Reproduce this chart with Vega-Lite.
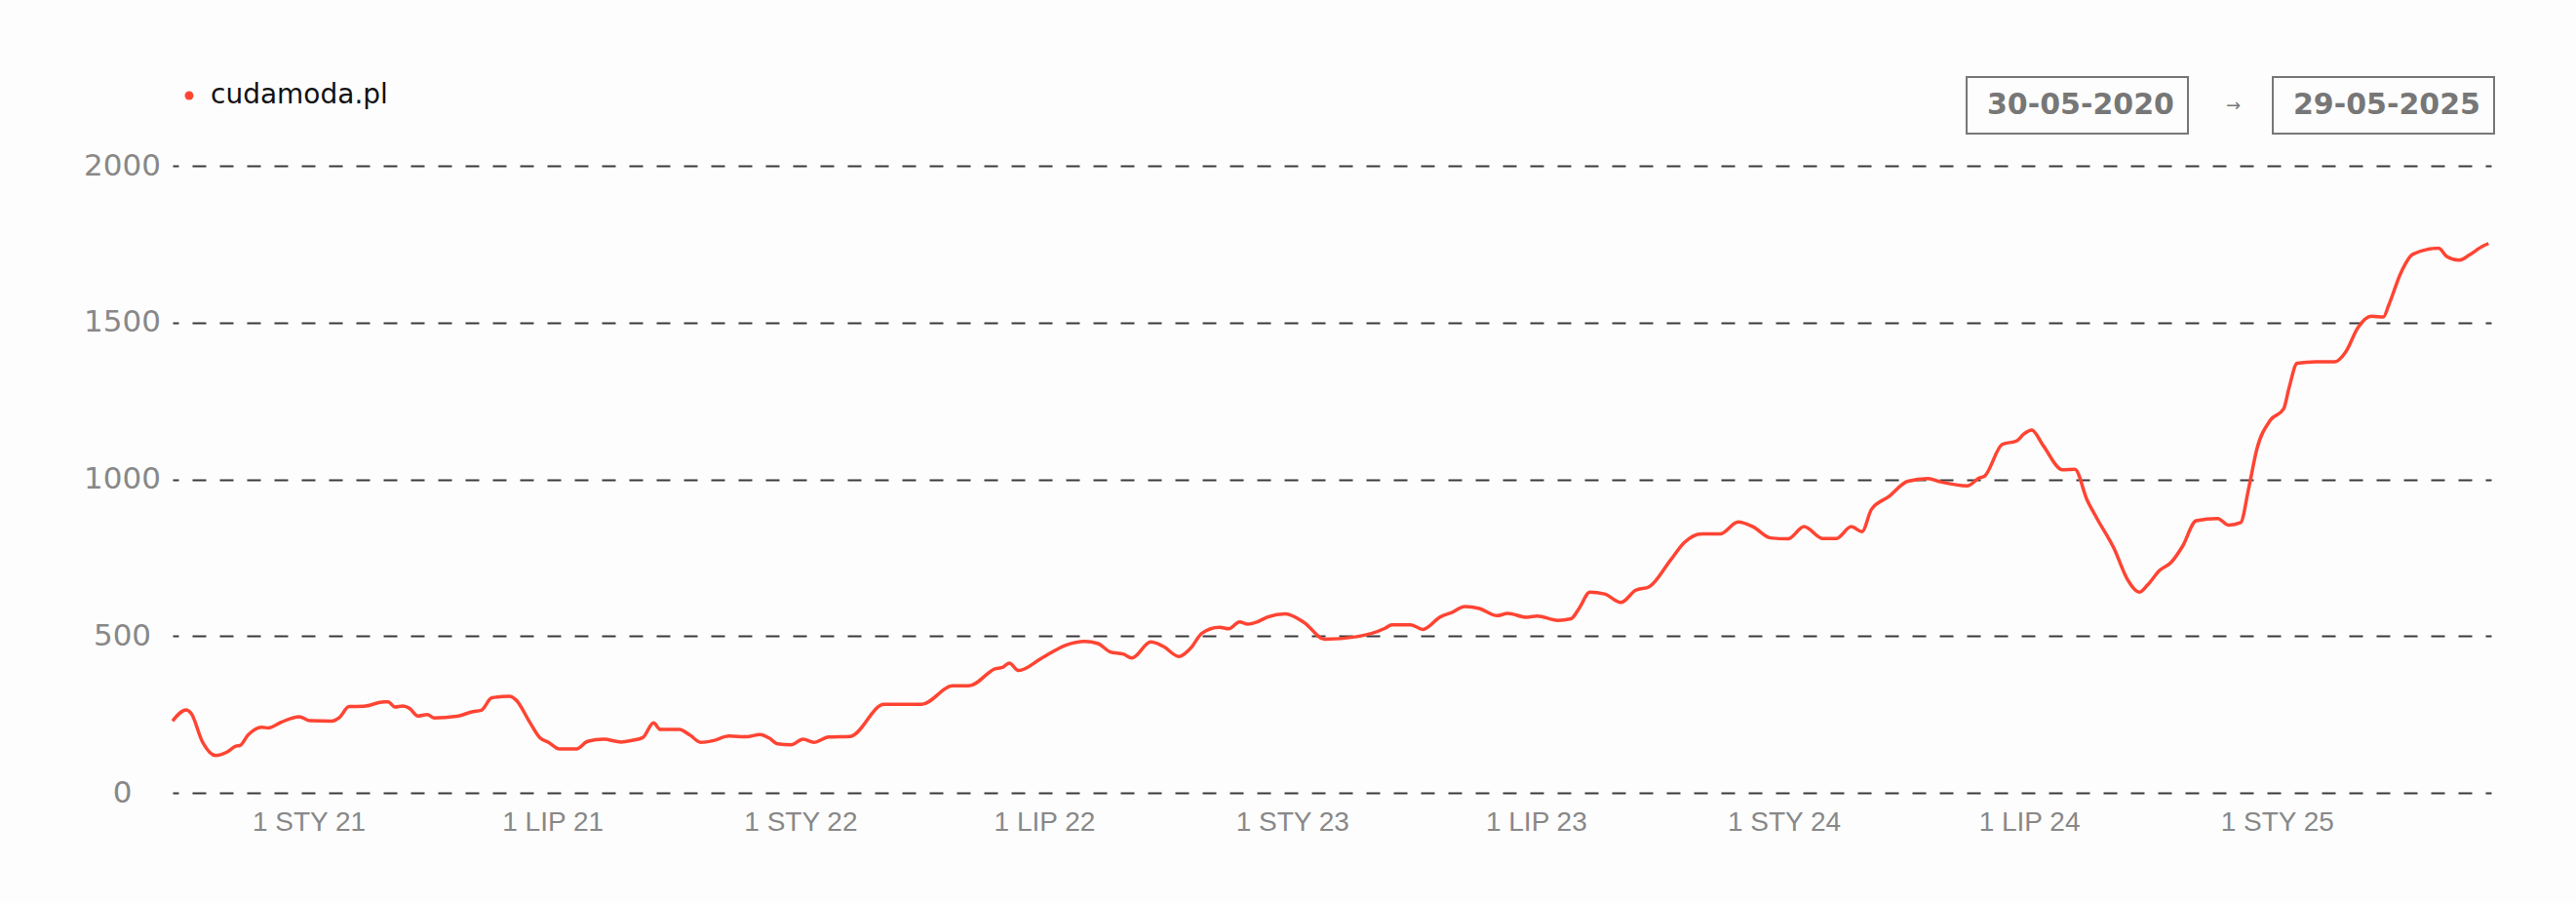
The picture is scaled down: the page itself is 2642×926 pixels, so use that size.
{
  "$schema": "https://vega.github.io/schema/vega-lite/v6.json",
  "width": 2378,
  "height": 643,
  "autosize": {"type": "none"},
  "padding": {"left": 177, "top": 170, "right": 87, "bottom": 113},
  "background": "#fdfdfd",
  "config": {
    "view": {"stroke": null},
    "legend": {"strokeWidth": 2, "labelLimit": 0}
  },
  "layer": [
    {
      "data": {
        "values": [
          {"date": "2020-09-22", "value": 229, "site": "cudamoda.pl"},
          {"date": "2020-10-02", "value": 264, "site": "cudamoda.pl"},
          {"date": "2020-10-06", "value": 252, "site": "cudamoda.pl"},
          {"date": "2020-10-14", "value": 164, "site": "cudamoda.pl"},
          {"date": "2020-10-24", "value": 119, "site": "cudamoda.pl"},
          {"date": "2020-11-01", "value": 129, "site": "cudamoda.pl"},
          {"date": "2020-11-08", "value": 149, "site": "cudamoda.pl"},
          {"date": "2020-11-11", "value": 151, "site": "cudamoda.pl"},
          {"date": "2020-11-17", "value": 184, "site": "cudamoda.pl"},
          {"date": "2020-11-27", "value": 209, "site": "cudamoda.pl"},
          {"date": "2020-12-02", "value": 207, "site": "cudamoda.pl"},
          {"date": "2020-12-12", "value": 226, "site": "cudamoda.pl"},
          {"date": "2020-12-25", "value": 243, "site": "cudamoda.pl"},
          {"date": "2021-01-02", "value": 230, "site": "cudamoda.pl"},
          {"date": "2021-01-18", "value": 229, "site": "cudamoda.pl"},
          {"date": "2021-01-24", "value": 241, "site": "cudamoda.pl"},
          {"date": "2021-01-31", "value": 275, "site": "cudamoda.pl"},
          {"date": "2021-02-11", "value": 276, "site": "cudamoda.pl"},
          {"date": "2021-02-26", "value": 290, "site": "cudamoda.pl"},
          {"date": "2021-03-01", "value": 290, "site": "cudamoda.pl"},
          {"date": "2021-03-06", "value": 274, "site": "cudamoda.pl"},
          {"date": "2021-03-12", "value": 277, "site": "cudamoda.pl"},
          {"date": "2021-03-17", "value": 269, "site": "cudamoda.pl"},
          {"date": "2021-03-23", "value": 245, "site": "cudamoda.pl"},
          {"date": "2021-03-30", "value": 250, "site": "cudamoda.pl"},
          {"date": "2021-04-04", "value": 239, "site": "cudamoda.pl"},
          {"date": "2021-04-21", "value": 244, "site": "cudamoda.pl"},
          {"date": "2021-05-03", "value": 259, "site": "cudamoda.pl"},
          {"date": "2021-05-09", "value": 263, "site": "cudamoda.pl"},
          {"date": "2021-05-17", "value": 303, "site": "cudamoda.pl"},
          {"date": "2021-05-30", "value": 308, "site": "cudamoda.pl"},
          {"date": "2021-06-04", "value": 296, "site": "cudamoda.pl"},
          {"date": "2021-06-14", "value": 226, "site": "cudamoda.pl"},
          {"date": "2021-06-22", "value": 174, "site": "cudamoda.pl"},
          {"date": "2021-06-28", "value": 161, "site": "cudamoda.pl"},
          {"date": "2021-07-06", "value": 140, "site": "cudamoda.pl"},
          {"date": "2021-07-19", "value": 140, "site": "cudamoda.pl"},
          {"date": "2021-07-27", "value": 164, "site": "cudamoda.pl"},
          {"date": "2021-08-08", "value": 171, "site": "cudamoda.pl"},
          {"date": "2021-08-21", "value": 162, "site": "cudamoda.pl"},
          {"date": "2021-08-29", "value": 167, "site": "cudamoda.pl"},
          {"date": "2021-09-06", "value": 176, "site": "cudamoda.pl"},
          {"date": "2021-09-14", "value": 223, "site": "cudamoda.pl"},
          {"date": "2021-09-19", "value": 202, "site": "cudamoda.pl"},
          {"date": "2021-10-03", "value": 202, "site": "cudamoda.pl"},
          {"date": "2021-10-11", "value": 184, "site": "cudamoda.pl"},
          {"date": "2021-10-19", "value": 161, "site": "cudamoda.pl"},
          {"date": "2021-10-28", "value": 166, "site": "cudamoda.pl"},
          {"date": "2021-11-09", "value": 181, "site": "cudamoda.pl"},
          {"date": "2021-11-22", "value": 179, "site": "cudamoda.pl"},
          {"date": "2021-12-02", "value": 186, "site": "cudamoda.pl"},
          {"date": "2021-12-09", "value": 174, "site": "cudamoda.pl"},
          {"date": "2021-12-15", "value": 156, "site": "cudamoda.pl"},
          {"date": "2021-12-25", "value": 153, "site": "cudamoda.pl"},
          {"date": "2022-01-03", "value": 171, "site": "cudamoda.pl"},
          {"date": "2022-01-11", "value": 161, "site": "cudamoda.pl"},
          {"date": "2022-01-22", "value": 178, "site": "cudamoda.pl"},
          {"date": "2022-02-07", "value": 180, "site": "cudamoda.pl"},
          {"date": "2022-03-04", "value": 282, "site": "cudamoda.pl"},
          {"date": "2022-04-01", "value": 282, "site": "cudamoda.pl"},
          {"date": "2022-04-24", "value": 341, "site": "cudamoda.pl"},
          {"date": "2022-05-06", "value": 341, "site": "cudamoda.pl"},
          {"date": "2022-05-26", "value": 396, "site": "cudamoda.pl"},
          {"date": "2022-05-31", "value": 400, "site": "cudamoda.pl"},
          {"date": "2022-06-05", "value": 414, "site": "cudamoda.pl"},
          {"date": "2022-06-12", "value": 390, "site": "cudamoda.pl"},
          {"date": "2022-06-29", "value": 429, "site": "cudamoda.pl"},
          {"date": "2022-07-17", "value": 471, "site": "cudamoda.pl"},
          {"date": "2022-07-31", "value": 483, "site": "cudamoda.pl"},
          {"date": "2022-08-10", "value": 476, "site": "cudamoda.pl"},
          {"date": "2022-08-19", "value": 449, "site": "cudamoda.pl"},
          {"date": "2022-08-29", "value": 442, "site": "cudamoda.pl"},
          {"date": "2022-09-04", "value": 430, "site": "cudamoda.pl"},
          {"date": "2022-09-18", "value": 481, "site": "cudamoda.pl"},
          {"date": "2022-09-27", "value": 468, "site": "cudamoda.pl"},
          {"date": "2022-10-09", "value": 435, "site": "cudamoda.pl"},
          {"date": "2022-10-18", "value": 463, "site": "cudamoda.pl"},
          {"date": "2022-10-26", "value": 509, "site": "cudamoda.pl"},
          {"date": "2022-11-08", "value": 528, "site": "cudamoda.pl"},
          {"date": "2022-11-15", "value": 523, "site": "cudamoda.pl"},
          {"date": "2022-11-23", "value": 545, "site": "cudamoda.pl"},
          {"date": "2022-11-29", "value": 538, "site": "cudamoda.pl"},
          {"date": "2022-12-06", "value": 545, "site": "cudamoda.pl"},
          {"date": "2022-12-14", "value": 561, "site": "cudamoda.pl"},
          {"date": "2022-12-27", "value": 571, "site": "cudamoda.pl"},
          {"date": "2023-01-10", "value": 543, "site": "cudamoda.pl"},
          {"date": "2023-01-25", "value": 490, "site": "cudamoda.pl"},
          {"date": "2023-02-18", "value": 498, "site": "cudamoda.pl"},
          {"date": "2023-03-11", "value": 525, "site": "cudamoda.pl"},
          {"date": "2023-03-16", "value": 536, "site": "cudamoda.pl"},
          {"date": "2023-03-30", "value": 536, "site": "cudamoda.pl"},
          {"date": "2023-04-08", "value": 521, "site": "cudamoda.pl"},
          {"date": "2023-04-21", "value": 561, "site": "cudamoda.pl"},
          {"date": "2023-04-30", "value": 576, "site": "cudamoda.pl"},
          {"date": "2023-05-09", "value": 594, "site": "cudamoda.pl"},
          {"date": "2023-05-20", "value": 588, "site": "cudamoda.pl"},
          {"date": "2023-06-02", "value": 565, "site": "cudamoda.pl"},
          {"date": "2023-06-10", "value": 572, "site": "cudamoda.pl"},
          {"date": "2023-06-24", "value": 560, "site": "cudamoda.pl"},
          {"date": "2023-07-02", "value": 564, "site": "cudamoda.pl"},
          {"date": "2023-07-17", "value": 550, "site": "cudamoda.pl"},
          {"date": "2023-07-27", "value": 555, "site": "cudamoda.pl"},
          {"date": "2023-08-02", "value": 588, "site": "cudamoda.pl"},
          {"date": "2023-08-10", "value": 640, "site": "cudamoda.pl"},
          {"date": "2023-08-21", "value": 634, "site": "cudamoda.pl"},
          {"date": "2023-09-02", "value": 607, "site": "cudamoda.pl"},
          {"date": "2023-09-13", "value": 646, "site": "cudamoda.pl"},
          {"date": "2023-09-23", "value": 657, "site": "cudamoda.pl"},
          {"date": "2023-10-09", "value": 743, "site": "cudamoda.pl"},
          {"date": "2023-10-19", "value": 798, "site": "cudamoda.pl"},
          {"date": "2023-11-01", "value": 826, "site": "cudamoda.pl"},
          {"date": "2023-11-15", "value": 826, "site": "cudamoda.pl"},
          {"date": "2023-11-28", "value": 864, "site": "cudamoda.pl"},
          {"date": "2023-12-09", "value": 849, "site": "cudamoda.pl"},
          {"date": "2023-12-22", "value": 813, "site": "cudamoda.pl"},
          {"date": "2024-01-04", "value": 810, "site": "cudamoda.pl"},
          {"date": "2024-01-16", "value": 849, "site": "cudamoda.pl"},
          {"date": "2024-01-30", "value": 811, "site": "cudamoda.pl"},
          {"date": "2024-02-09", "value": 811, "site": "cudamoda.pl"},
          {"date": "2024-02-20", "value": 849, "site": "cudamoda.pl"},
          {"date": "2024-02-28", "value": 833, "site": "cudamoda.pl"},
          {"date": "2024-03-06", "value": 904, "site": "cudamoda.pl"},
          {"date": "2024-03-19", "value": 945, "site": "cudamoda.pl"},
          {"date": "2024-04-02", "value": 994, "site": "cudamoda.pl"},
          {"date": "2024-04-17", "value": 1002, "site": "cudamoda.pl"},
          {"date": "2024-04-26", "value": 992, "site": "cudamoda.pl"},
          {"date": "2024-05-16", "value": 979, "site": "cudamoda.pl"},
          {"date": "2024-05-25", "value": 1004, "site": "cudamoda.pl"},
          {"date": "2024-05-29", "value": 1010, "site": "cudamoda.pl"},
          {"date": "2024-06-11", "value": 1111, "site": "cudamoda.pl"},
          {"date": "2024-06-22", "value": 1123, "site": "cudamoda.pl"},
          {"date": "2024-06-27", "value": 1144, "site": "cudamoda.pl"},
          {"date": "2024-07-03", "value": 1157, "site": "cudamoda.pl"},
          {"date": "2024-07-11", "value": 1111, "site": "cudamoda.pl"},
          {"date": "2024-07-26", "value": 1030, "site": "cudamoda.pl"},
          {"date": "2024-08-04", "value": 1032, "site": "cudamoda.pl"},
          {"date": "2024-08-13", "value": 935, "site": "cudamoda.pl"},
          {"date": "2024-08-20", "value": 878, "site": "cudamoda.pl"},
          {"date": "2024-09-02", "value": 780, "site": "cudamoda.pl"},
          {"date": "2024-09-12", "value": 681, "site": "cudamoda.pl"},
          {"date": "2024-09-21", "value": 640, "site": "cudamoda.pl"},
          {"date": "2024-09-27", "value": 663, "site": "cudamoda.pl"},
          {"date": "2024-10-06", "value": 710, "site": "cudamoda.pl"},
          {"date": "2024-10-14", "value": 733, "site": "cudamoda.pl"},
          {"date": "2024-10-23", "value": 787, "site": "cudamoda.pl"},
          {"date": "2024-11-02", "value": 868, "site": "cudamoda.pl"},
          {"date": "2024-11-18", "value": 875, "site": "cudamoda.pl"},
          {"date": "2024-11-26", "value": 854, "site": "cudamoda.pl"},
          {"date": "2024-12-05", "value": 862, "site": "cudamoda.pl"},
          {"date": "2024-12-11", "value": 971, "site": "cudamoda.pl"},
          {"date": "2024-12-17", "value": 1095, "site": "cudamoda.pl"},
          {"date": "2024-12-27", "value": 1188, "site": "cudamoda.pl"},
          {"date": "2025-01-06", "value": 1225, "site": "cudamoda.pl"},
          {"date": "2025-01-10", "value": 1292, "site": "cudamoda.pl"},
          {"date": "2025-01-16", "value": 1370, "site": "cudamoda.pl"},
          {"date": "2025-01-30", "value": 1375, "site": "cudamoda.pl"},
          {"date": "2025-02-13", "value": 1375, "site": "cudamoda.pl"},
          {"date": "2025-02-21", "value": 1406, "site": "cudamoda.pl"},
          {"date": "2025-03-02", "value": 1483, "site": "cudamoda.pl"},
          {"date": "2025-03-12", "value": 1520, "site": "cudamoda.pl"},
          {"date": "2025-03-21", "value": 1518, "site": "cudamoda.pl"},
          {"date": "2025-03-25", "value": 1556, "site": "cudamoda.pl"},
          {"date": "2025-04-03", "value": 1659, "site": "cudamoda.pl"},
          {"date": "2025-04-12", "value": 1718, "site": "cudamoda.pl"},
          {"date": "2025-05-01", "value": 1737, "site": "cudamoda.pl"},
          {"date": "2025-05-07", "value": 1711, "site": "cudamoda.pl"},
          {"date": "2025-05-16", "value": 1699, "site": "cudamoda.pl"},
          {"date": "2025-05-24", "value": 1716, "site": "cudamoda.pl"},
          {"date": "2025-06-02", "value": 1742, "site": "cudamoda.pl"},
          {"date": "2025-06-07", "value": 1752, "site": "cudamoda.pl"}
        ]
      },
      "mark": {"type": "line", "interpolate": "monotone", "strokeWidth": 3.5},
      "encoding": {
        "x": {
          "field": "date",
          "type": "temporal",
          "scale": {
            "type": "utc",
            "domain": [
              {"year": 2020, "month": 9, "date": 22, "utc": true},
              {"year": 2025, "month": 6, "date": 9, "utc": true}
            ]
          },
          "axis": {
            "title": null,
            "domain": false,
            "ticks": false,
            "tickSize": 0,
            "grid": false,
            "values": [
              {"year": 2021, "month": 1, "date": 1, "utc": true},
              {"year": 2021, "month": 7, "date": 1, "utc": true},
              {"year": 2022, "month": 1, "date": 1, "utc": true},
              {"year": 2022, "month": 7, "date": 1, "utc": true},
              {"year": 2023, "month": 1, "date": 1, "utc": true},
              {"year": 2023, "month": 7, "date": 1, "utc": true},
              {"year": 2024, "month": 1, "date": 1, "utc": true},
              {"year": 2024, "month": 7, "date": 1, "utc": true},
              {"year": 2025, "month": 1, "date": 1, "utc": true}
            ],
            "labelExpr": "'1 ' + (utcmonth(datum.value) == 0 ? 'STY' : 'LIP') + ' ' + utcFormat(datum.value, '%y')",
            "labelFont": "Liberation Sans",
            "labelFontSize": 28,
            "labelColor": "#888888",
            "labelPadding": 16,
            "labelFlush": false
          }
        },
        "y": {
          "field": "value",
          "type": "quantitative",
          "scale": {"domain": [0, 2000], "nice": false},
          "axis": {
            "title": null,
            "domain": false,
            "ticks": false,
            "tickSize": 0,
            "values": [0, 500, 1000, 1500, 2000],
            "format": "d",
            "grid": true,
            "gridColor": "#3a3a3a",
            "gridOpacity": 1,
            "gridWidth": 2,
            "gridDash": [14, 14],
            "gridDashOffset": 8,
            "labelFont": "DejaVu Sans",
            "labelFontSize": 31,
            "labelColor": "#888888",
            "labelAlign": "center",
            "labelPadding": 52
          }
        },
        "color": {
          "field": "site",
          "type": "nominal",
          "scale": {"range": ["#ff4433"]},
          "legend": {
            "title": null,
            "orient": "none",
            "legendX": 3,
            "legendY": -86,
            "padding": 0,
            "symbolType": "circle",
            "symbolSize": 80,
            "symbolFillColor": "#ff4433",
            "symbolStrokeWidth": 0,
            "labelOffset": 8,
            "labelFont": "DejaVu Sans",
            "labelFontSize": 28,
            "labelColor": "#111111"
          }
        }
      }
    },
    {
      "data": {"values": [{"od": "30-05-2020"}]},
      "mark": {"type": "point", "opacity": 0},
      "encoding": {
        "shape": {
          "field": "od",
          "type": "nominal",
          "legend": {
            "title": null,
            "orient": "none",
            "legendX": 1840,
            "legendY": -91,
            "padding": 14,
            "strokeColor": "#777777",
            "symbolSize": 0,
            "symbolOpacity": 0,
            "symbolStrokeWidth": 0,
            "labelOffset": -23,
            "labelFont": "DejaVu Sans",
            "labelFontWeight": "bold",
            "labelFontSize": 30,
            "labelColor": "#777777"
          }
        }
      }
    },
    {
      "data": {"values": [{"arrow": "→"}]},
      "mark": {"type": "point", "opacity": 0},
      "encoding": {
        "size": {
          "field": "arrow",
          "type": "ordinal",
          "legend": {
            "title": null,
            "orient": "none",
            "legendX": 2088,
            "legendY": -70,
            "padding": 0,
            "symbolSize": 0,
            "symbolOpacity": 0,
            "symbolStrokeWidth": 0,
            "labelOffset": 0,
            "labelFont": "DejaVu Sans",
            "labelFontSize": 18,
            "labelColor": "#777777"
          }
        }
      }
    },
    {
      "data": {"values": [{"do": "29-05-2025"}]},
      "mark": {"type": "point", "opacity": 0},
      "encoding": {
        "strokeDash": {
          "field": "do",
          "type": "nominal",
          "legend": {
            "title": null,
            "orient": "none",
            "legendX": 2154,
            "legendY": -91,
            "padding": 14,
            "strokeColor": "#777777",
            "symbolSize": 0,
            "symbolOpacity": 0,
            "symbolStrokeWidth": 0,
            "labelOffset": -23,
            "labelFont": "DejaVu Sans",
            "labelFontWeight": "bold",
            "labelFontSize": 30,
            "labelColor": "#777777"
          }
        }
      }
    }
  ]
}
